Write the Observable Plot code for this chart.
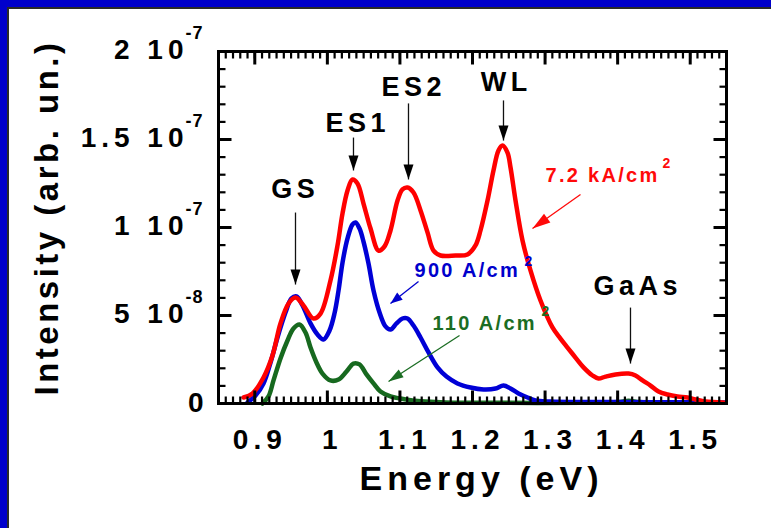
<!DOCTYPE html>
<html><head><meta charset="utf-8">
<script src="https://cdn.jsdelivr.net/npm/d3@7"></script>
<script src="https://cdn.jsdelivr.net/npm/@observablehq/plot@0.6"></script>
<style>
html,body{margin:0;padding:0;background:#fff;}
#wrap{position:relative;width:771px;height:528px;overflow:hidden;}
.band{position:absolute;background:#0000cc;}
.edge{position:absolute;background:#2a2a2a;}
svg g[font-size="28"] text{letter-spacing:5px;}
svg g[font-size="18"] text{letter-spacing:1px;}
svg g[font-size="34"] text{letter-spacing:5px;}
svg g[font-size="33"] text{letter-spacing:3.5px;}
svg g[font-size="27"] text{letter-spacing:4.5px;}
svg g[font-size="20"] text{letter-spacing:2.3px;}
</style></head><body>
<div id="wrap"><div id="chart"></div>
<div class="band" style="left:0;top:0;width:7px;height:528px"></div>
<div class="band" style="left:0;top:0;width:771px;height:7px"></div>
<div class="edge" style="left:7px;top:7px;width:2px;height:521px"></div>
<div class="edge" style="left:7px;top:7px;width:764px;height:2px"></div>
</div>
<script>
// ---- data (intensity in units of 1e-8 arb. un.) ----
const redE = [0.8845,0.8969,0.912,0.9244,0.9354,0.9465,0.9561,0.9671,0.9809,0.9906,1.0043,1.014,1.0209,1.0278,1.0346,1.0415,1.0498,1.0595,1.0705,1.0787,1.087,1.0967,1.1035,1.1104,1.1187,1.1284,1.138,1.1463,1.1559,1.1766,1.1931,1.2041,1.211,1.2207,1.2289,1.2358,1.2413,1.2482,1.2524,1.2593,1.2689,1.2799,1.2937,1.3102,1.3212,1.3309,1.3419,1.353,1.3654,1.3736,1.3833,1.3971,1.415,1.4246,1.4343,1.4453,1.4563,1.4687,1.4825,1.4963,1.5073,1.5211,1.5459];
const redI = [0.34,0.57,1.48,2.73,4.55,5.68,6.02,5.57,4.83,5.11,6.99,8.98,10.80,12.10,12.73,12.50,11.36,9.94,8.69,8.92,9.83,11.53,12.16,12.27,11.99,10.97,9.72,8.69,8.41,8.41,8.47,8.98,9.83,11.53,13.24,14.38,14.66,14.26,13.41,11.53,9.26,7.56,5.85,4.32,3.69,3.18,2.61,2.05,1.59,1.42,1.53,1.65,1.70,1.59,1.31,1.02,0.68,0.51,0.40,0.34,0.23,0.11,0.06];
const blueE = [0.89,0.901,0.912,0.9217,0.9313,0.9423,0.9506,0.9575,0.9658,0.9768,0.9864,0.9947,1.003,1.0098,1.0154,1.0209,1.0278,1.0346,1.0388,1.0443,1.0498,1.0567,1.0636,1.0719,1.0801,1.087,1.0953,1.1035,1.1104,1.1187,1.1284,1.1394,1.1518,1.1642,1.1793,1.1973,1.2152,1.2317,1.2427,1.2524,1.2634,1.2758,1.2868,1.3075,1.35,1.40,1.45,1.50,1.549];
const blueI = [0.06,0.45,1.14,2.33,3.75,5.17,5.97,6.08,5.57,4.55,3.92,3.64,4.15,5.11,6.42,8.01,9.38,10.17,10.28,9.94,9.20,7.95,6.42,5.17,4.38,4.20,4.55,4.83,4.83,4.43,3.75,2.90,2.05,1.53,1.14,0.91,0.80,0.85,1.02,0.85,0.57,0.34,0.17,0.11,0.08,0.08,0.07,0.07,0.06];
const greenE = [0.9106,0.9189,0.9258,0.9354,0.9451,0.9533,0.9616,0.9699,0.9768,0.985,0.9933,1.0043,1.0154,1.0264,1.036,1.0443,1.0539,1.0636,1.0732,1.087,1.1008,1.1173,1.1352,1.1628,1.25,1.35,1.40,1.415,1.43,1.46];
const greenI = [0,0.4,1.31,2.56,3.58,4.26,4.49,4.03,3.18,2.33,1.70,1.31,1.36,1.82,2.27,2.22,1.65,1.14,0.68,0.40,0.28,0.17,0.11,0.06,0.04,0.04,0.08,0.15,0.08,0.04];

// axes
const xTicks = [0.9,1,1.1,1.2,1.3,1.4,1.5];
const xTickLabels = ["0.9","1","1.1","1.2","1.3","1.4","1.5"];
const xMinor = d3.range(86,155).map(i => i/100);
const yTicks = [0,5,10,15,20];
const yTickMantissa = ["0","5 10","1 10","1.5 10","2 10"];
const yTickExponent = ["","-8","-7","-7","-7"];
const yMinor = d3.range(1,20);

// peak annotations
const peakNames = ["GS","ES1","ES2","WL","GaAs"];
const peakLabelE = [0.9527,1.0388,1.1160,1.2434,1.4246];
const peakLabelI = [11.70,15.40,17.50,17.73,6.19];
const peakArrowE = [0.9561,1.0360,1.1118,1.2427,1.4177];
const peakArrowTop = [10.85,15.11,17.05,17.22,5.45];
const peakArrowTip = [6.76,13.24,12.73,14.94,2.27];

// current density labels
const seriesNames = ["7.2 kA/cm","900 A/cm","110 A/cm"];
const seriesColors = ["#ff0a0a","#0000cc","#1b6d23"];
const nameE = [1.3006,1.1201,1.1449];
const nameI = [12.557,7.16,4.20];
const supE = [1.4618,1.2717,1.2951];
const supI = [13.353,7.84,5.00];
const pointerE1 = [1.3488,1.1256,1.1821];
const pointerI1 = [11.875,6.93,3.86];
const pointerE2 = [1.2827,1.0870,1.0843];
const pointerI2 = [9.94,5.68,1.25];

// ---- layout ----
const W = 771, H = 528, mL = 218, mR = 45, mT = 51, mB = 125;
const xDom = [0.85, 1.55], yDom = [0, 20];
const kx = (W - mL - mR) / (xDom[1] - xDom[0]);
const ky = (H - mT - mB) / (yDom[1] - yDom[0]);

const zip = (E, I) => E.map((e, i) => ({e, v: I[i]}));
const head = (L, w) => ({draw(ctx) { ctx.moveTo(0, 0); ctx.lineTo(-L, -w/2); ctx.lineTo(-L, w/2); ctx.closePath(); }});

const peakRows = peakNames.map((n, i) => ({n, le: peakLabelE[i], li: peakLabelI[i], e: peakArrowE[i], top: peakArrowTop[i], tip: peakArrowTip[i]}));
const yRows = yTicks.map((v, i) => ({v, m: yTickMantissa[i], x: yTickExponent[i]}));

const lineStyle = {x: "e", y: "v", strokeWidth: 4.5, curve: "catmull-rom", strokeLinejoin: "round"};
const bold = {fontWeight: "bold"};

// inward ticks on all four sides (minor 7px, major 13px)
const tickMarks = [];
for (const [xs, ys, len, w] of [[xMinor, yMinor, 7, 2.2], [xTicks, yTicks.slice(1, -1), 13, 3]]) {
  const xr = xs.map(v => ({v, a0: yDom[0], a1: yDom[0] + len / ky, b0: yDom[1] - len / ky, b1: yDom[1]}));
  const yr = ys.map(v => ({v, a0: xDom[0], a1: xDom[0] + len / kx, b0: xDom[1] - len / kx, b1: xDom[1]}));
  tickMarks.push(
    Plot.link(xr, {x1: "v", x2: "v", y1: "a0", y2: "a1", stroke: "black", strokeWidth: w}),
    Plot.link(xr, {x1: "v", x2: "v", y1: "b0", y2: "b1", stroke: "black", strokeWidth: w}),
    Plot.link(yr, {y1: "v", y2: "v", x1: "a0", x2: "a1", stroke: "black", strokeWidth: w}),
    Plot.link(yr, {y1: "v", y2: "v", x1: "b0", x2: "b1", stroke: "black", strokeWidth: w})
  );
}

const seriesMarks = [];
const heads = [head(18, 11), head(12, 9), head(15, 9)];
seriesNames.forEach((name, i) => {
  const c = seriesColors[i];
  const row = [{e1: pointerE1[i], i1: pointerI1[i], e2: pointerE2[i], i2: pointerI2[i]}];
  const ang = Math.atan2(-(pointerI2[i] - pointerI1[i]) * ky, (pointerE2[i] - pointerE1[i]) * kx) * 180 / Math.PI;
  seriesMarks.push(
    Plot.text([name], {x: () => nameE[i], y: () => nameI[i], text: d => d, textAnchor: "start", lineAnchor: "bottom", fontSize: 20, fill: c, ...bold}),
    Plot.text(["2"], {x: () => supE[i], y: () => supI[i], text: d => d, textAnchor: "start", lineAnchor: "bottom", fontSize: 14, fill: c, ...bold}),
    Plot.link(row, {x1: "e1", y1: "i1", x2: "e2", y2: "i2", stroke: c, strokeWidth: 1.3}),
    Plot.dot(row, {x: "e2", y: "i2", symbol: heads[i], rotate: ang, fill: c, stroke: "none"})
  );
});

const chart = Plot.plot({
  width: W, height: H,
  marginLeft: mL, marginRight: mR, marginTop: mT, marginBottom: mB,
  x: {domain: xDom, axis: null},
  y: {domain: yDom, axis: null},
  style: {fontFamily: "'Liberation Sans', Arial, sans-serif", background: "white", color: "black"},
  marks: [
    Plot.line(zip(greenE, greenI), {...lineStyle, stroke: "#17691f"}),
    Plot.line(zip(blueE, blueI), {...lineStyle, stroke: "#0000d6"}),
    Plot.line(zip(redE, redI), {...lineStyle, stroke: "#ff0000"}),
    Plot.frame({strokeWidth: 3, stroke: "black"}),
    ...tickMarks,
    // tick labels
    Plot.text(xTicks, {x: d => d, text: (d, i) => xTickLabels[i], frameAnchor: "bottom", lineAnchor: "bottom", dx: 5, dy: 45, fontSize: 28, ...bold}),
    Plot.text(yRows.filter(r => r.x), {y: "v", text: "m", frameAnchor: "left", textAnchor: "end", lineAnchor: "bottom", dx: -30, dy: 7, fontSize: 28, ...bold}),
    Plot.text(yRows.filter(r => !r.x), {y: "v", text: "m", frameAnchor: "left", textAnchor: "end", lineAnchor: "bottom", dx: -10, dy: 8, fontSize: 28, ...bold}),
    Plot.text(yRows.filter(r => r.x), {y: "v", text: "x", frameAnchor: "left", textAnchor: "end", lineAnchor: "bottom", dx: -15, dy: -13, fontSize: 18, ...bold}),
    // axis titles
    Plot.text(["Energy (eV)"], {text: d => d, frameAnchor: "bottom", textAnchor: "middle", lineAnchor: "bottom", dx: 9, dy: 86, fontSize: 34, ...bold}),
    Plot.text(["Intensity (arb. un.)"], {text: d => d, frameAnchor: "left", textAnchor: "middle", rotate: -90, lineAnchor: "bottom", dx: -161, dy: -10, fontSize: 33, ...bold}),
    // peak annotations
    Plot.text(peakRows, {x: "le", y: "li", text: "n", textAnchor: "middle", lineAnchor: "bottom", dx: 2.25, fontSize: 27, ...bold}),
    Plot.link(peakRows, {x1: "e", x2: "e", y1: "top", y2: "tip", stroke: "#111", strokeWidth: 1.3}),
    Plot.dot(peakRows, {x: "e", y: "tip", symbol: head(15, 10), rotate: 90, fill: "#000", stroke: "none"}),
    ...seriesMarks
  ]
});
document.getElementById("chart").appendChild(chart);
</script>
</body></html>
